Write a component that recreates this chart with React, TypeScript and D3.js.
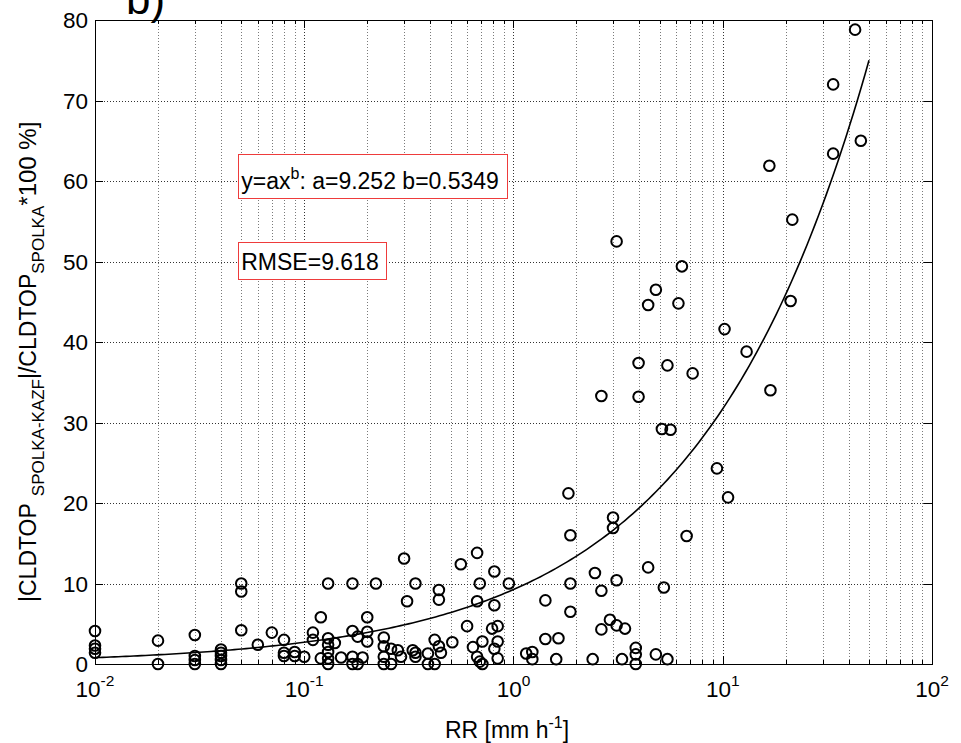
import { useEffect, useRef } from "react";
import * as d3 from "d3";

// RR [mm h^-1] of every circle
const rainRate = [
    0.01, 0.01, 0.01, 0.01,
    0.02, 0.02,
    0.03, 0.03, 0.03, 0.03,
    0.04, 0.04, 0.04, 0.04, 0.04,
    0.05, 0.05, 0.05,
    0.06, 0.07,
    0.08, 0.08, 0.08,
    0.09, 0.09,
    0.10,
    0.11, 0.11,
    0.12, 0.12,
    0.13, 0.13, 0.13, 0.13, 0.13, 0.13,
    0.14, 0.15,
    0.17, 0.17, 0.17, 0.17,
    0.18, 0.18,
    0.19,
    0.20, 0.20, 0.20,
    0.22,
    0.24, 0.24, 0.24, 0.24,
    0.26, 0.26,
    0.28, 0.29, 0.30, 0.31, 0.33,
    0.34, 0.34, 0.34,
    0.39, 0.39,
    0.42, 0.42,
    0.44, 0.44, 0.44,
    0.45, 0.51, 0.56, 0.60, 0.64,
    0.67, 0.67, 0.67,
    0.69, 0.69,
    0.71, 0.71,
    0.79,
    0.81, 0.81, 0.81,
    0.84, 0.84, 0.84,
    0.95, 1.15,
    1.23, 1.23,
    1.42, 1.42,
    1.60, 1.64, 1.83,
    1.87, 1.87, 1.87,
    2.39, 2.45,
    2.63, 2.63, 2.63,
    2.89,
    2.99, 2.99,
    3.11, 3.11, 3.11,
    3.30, 3.41,
    3.84, 3.84, 3.84,
    3.96, 3.96,
    4.40, 4.40,
    4.79, 4.79,
    5.12, 5.23,
    5.44, 5.44,
    5.63, 6.14, 6.38, 6.72, 7.18,
    9.38, 10.2, 10.6, 13.0,
    16.7, 16.9, 21.1, 21.5,
    33.7, 33.7,
    42.9, 45.7,
];

// |CLDTOP_SPOLKA-KAZF| / CLDTOP_SPOLKA * 100 [%], same order as rainRate
const relError = [
    4.1, 2.3, 1.9, 1.4,
    2.9, 0,
    3.6, 1.0, 0.5, 0,
    1.8, 1.4, 1.0, 0.5, 0,
    10.0, 9.0, 4.2,
    2.4, 3.9,
    3.0, 1.4, 1.0,
    1.5, 1.0,
    0.9,
    3.9, 3.0,
    5.8, 0.7,
    10.0, 3.2, 2.4, 1.5, 0.7, 0,
    2.6, 0.8,
    10.0, 4.1, 0.9, 0,
    3.4, 0,
    0.8,
    5.8, 4.0, 2.8,
    10.0,
    3.3, 2.2, 0.9, 0,
    1.9, 0,
    1.7, 0.9, 13.1, 7.8, 1.7,
    10.0, 1.4, 0.9,
    1.3, 0,
    3.0, 0,
    9.2, 8.0, 2.2,
    1.4, 2.7, 12.4, 4.7, 2.1,
    13.8, 7.8, 0.9,
    10.0, 0.3,
    2.8, 0,
    4.4,
    11.5, 7.3, 1.9,
    4.7, 2.8, 0.7,
    10.0, 1.3,
    1.5, 0.6,
    7.9, 3.1,
    0.6, 3.2, 21.2,
    16.0, 10.0, 6.5,
    0.6, 11.3,
    33.3, 9.1, 4.3,
    5.5,
    18.2, 16.9,
    52.5, 10.4, 4.8,
    0.6, 4.4,
    2.0, 1.2, 0,
    37.4, 33.2,
    44.6, 12.0,
    46.5, 1.2,
    29.2, 9.5,
    37.1, 0.6,
    29.1, 44.8, 49.4, 15.9, 36.1,
    24.3, 41.6, 20.7, 38.8,
    61.9, 34.0, 45.1, 55.2,
    72.0, 63.4,
    78.8, 65.0,
];

// power law fit y = a * x^b
const fitA = 9.252;
const fitB = 0.5349;
const fitRange = [0.01, 50];
const rmse = 9.618;

const xTickExponents = [-2, -1, 0, 1, 2];
const yTicks = [0, 10, 20, 30, 40, 50, 60, 70, 80];

const W = 961;
const H = 743;
const FONT = "'Liberation Sans', Arial, Helvetica, sans-serif";

export default function App() {
    const svgRef = useRef<SVGSVGElement>(null);

    useEffect(() => {
        const svg = d3.select(svgRef.current);
        svg.selectAll("*").remove();

        const left = 95, right = 932, top = 20, bottom = 664;

        const x = d3.scaleLog().domain([0.01, 100]).range([left, right]);
        const y = d3.scaleLinear().domain([0, 80]).range([bottom, top]);

        svg.append("rect").attr("width", W).attr("height", H).attr("fill", "white");

        // minor tick positions 2..9 x 10^k
        const minorX: number[] = [];
        for (let e = -2; e < 2; e++) {
            for (let m = 2; m <= 9; m++) minorX.push(m * 10 ** e);
        }
        const majorX = xTickExponents.map(e => 10 ** e);

        // dotted grid
        const grid = svg.append("g")
            .attr("fill", "none")
            .attr("stroke-dasharray", "1,2")
            .attr("shape-rendering", "crispEdges");

        grid.selectAll("line.minor")
            .data(minorX)
            .join("line")
            .attr("x1", d => Math.round(x(d)) + 0.5)
            .attr("x2", d => Math.round(x(d)) + 0.5)
            .attr("y1", top)
            .attr("y2", bottom)
            .attr("stroke", "#7a7a7a");

        grid.selectAll("line.major")
            .data(majorX.slice(1, -1))
            .join("line")
            .attr("x1", d => Math.round(x(d)) + 0.5)
            .attr("x2", d => Math.round(x(d)) + 0.5)
            .attr("y1", top)
            .attr("y2", bottom)
            .attr("stroke", "#333");

        grid.selectAll("line.h")
            .data(yTicks.slice(1, -1))
            .join("line")
            .attr("x1", left)
            .attr("x2", right)
            .attr("y1", d => Math.round(y(d)) + 0.5)
            .attr("y2", d => Math.round(y(d)) + 0.5)
            .attr("stroke", "#333");

        // ticks (inward, on all four sides)
        const ticks = svg.append("g")
            .attr("stroke", "black")
            .attr("stroke-width", 1)
            .attr("shape-rendering", "crispEdges");

        const tickLines = (vals: number[], len: number) => {
            vals.forEach(v => {
                const px = Math.round(x(v)) + 0.5;
                ticks.append("line").attr("x1", px).attr("x2", px).attr("y1", bottom).attr("y2", bottom - len);
                ticks.append("line").attr("x1", px).attr("x2", px).attr("y1", top).attr("y2", top + len);
            });
        };
        tickLines(majorX, 8);
        tickLines(minorX, 4);

        yTicks.forEach(v => {
            const py = Math.round(y(v)) + 0.5;
            ticks.append("line").attr("x1", left).attr("x2", left + 8).attr("y1", py).attr("y2", py);
            ticks.append("line").attr("x1", right).attr("x2", right - 8).attr("y1", py).attr("y2", py);
        });

        // axes box
        svg.append("rect")
            .attr("x", left + 0.5)
            .attr("y", top + 0.5)
            .attr("width", right - left)
            .attr("height", bottom - top)
            .attr("fill", "none")
            .attr("stroke", "black")
            .attr("shape-rendering", "crispEdges");

        // tick labels
        const labels = svg.append("g").attr("font-family", FONT).attr("fill", "black");

        yTicks.forEach(v => {
            labels.append("text")
                .attr("x", left - 7)
                .attr("y", y(v) + 8)
                .attr("text-anchor", "end")
                .attr("font-size", 22.5)
                .text(v);
        });

        xTickExponents.forEach(e => {
            const t = labels.append("text")
                .attr("x", x(10 ** e))
                .attr("y", 697)
                .attr("text-anchor", "middle")
                .attr("font-size", 22.5);
            t.append("tspan").text("10");
            t.append("tspan").attr("dy", -11).attr("font-size", 15.5).text(e);
        });

        // x label
        const xl = labels.append("text")
            .attr("x", 507)
            .attr("y", 738)
            .attr("text-anchor", "middle")
            .attr("font-size", 23);
        xl.append("tspan").text("RR [mm h");
        xl.append("tspan").attr("dy", -10).attr("font-size", 16).text("-1");
        xl.append("tspan").attr("dy", 10).text("]");

        // y label, rotated, starts near the bottom
        const yl = labels.append("text")
            .attr("transform", "translate(36,602) rotate(-90)")
            .attr("text-anchor", "start")
            .attr("font-size", 23);
        yl.append("tspan").text("|CLDTOP");
        yl.append("tspan").attr("dx", 7).attr("dy", 8).attr("font-size", 17).text("SPOLKA-KAZF");
        yl.append("tspan").attr("dy", -8).text("|/CLDTOP");
        yl.append("tspan").attr("dy", 8).attr("font-size", 17).text("SPOLKA");
        yl.append("tspan").attr("dy", -8).attr("font-size", 24).text("*100 %]");

        // panel letter (cut by the top edge, as in the figure)
        labels.append("text")
            .attr("x", 126)
            .attr("y", 14)
            .attr("font-size", 44)
            .text("b)");

        // fitted curve
        const n = 200;
        const l0 = Math.log10(fitRange[0]);
        const l1 = Math.log10(fitRange[1]);
        const fitX = d3.range(n + 1).map(i => 10 ** (l0 + (i * (l1 - l0)) / n));

        const line = d3.line<number>()
            .x(d => x(d))
            .y(d => y(fitA * d ** fitB));

        svg.append("path")
            .datum(fitX)
            .attr("fill", "none")
            .attr("stroke", "black")
            .attr("stroke-width", 1.6)
            .attr("d", line);

        // data circles
        svg.append("g")
            .selectAll("circle")
            .data(rainRate.map((r, i) => [r, relError[i]]))
            .join("circle")
            .attr("cx", d => x(d[0]))
            .attr("cy", d => y(d[1]))
            .attr("r", 5.3)
            .attr("fill", "none")
            .attr("stroke", "black")
            .attr("stroke-width", 2);

        // annotation boxes
        const note = (yVal: number, build: (t: any) => void, padTop: number) => {
            const g = svg.append("g");
            const t = g.append("text")
                .attr("x", x(0.05))
                .attr("y", y(yVal) + 8)
                .attr("font-family", FONT)
                .attr("font-size", 23);
            build(t);
            const bb = (t.node() as SVGTextElement).getBBox();
            g.insert("rect", "text")
                .attr("x", Math.round(bb.x - 3.5) + 0.5)
                .attr("y", Math.round(y(yVal) + 8 - padTop) + 0.5)
                .attr("width", Math.round(bb.width + 11))
                .attr("height", Math.round(padTop + 9))
                .attr("fill", "white")
                .attr("stroke", "#ee3b3b")
                .attr("stroke-width", 1)
                .attr("shape-rendering", "crispEdges");
        };

        note(60, t => {
            t.append("tspan").text("y=ax");
            t.append("tspan").attr("dy", -10).attr("font-size", 16).text("b");
            t.append("tspan").attr("dy", 10).text(`: a=${fitA} b=${fitB}`);
        }, 35);

        note(50, t => {
            t.append("tspan").text(`RMSE=${rmse}`);
        }, 28);
    }, []);

    return (
        <svg
            ref={svgRef}
            width={W}
            height={H}
            style={{ position: "absolute", left: 0, top: 0, display: "block" }}
        />
    );
}
